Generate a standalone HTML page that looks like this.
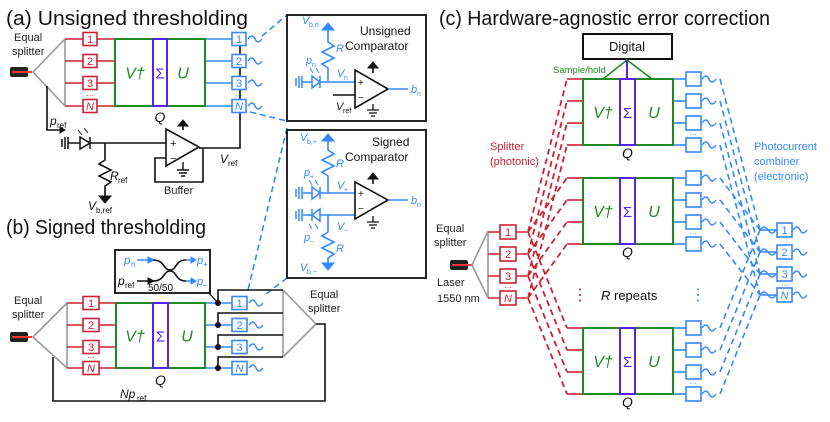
<!DOCTYPE html>
<html><head><meta charset="utf-8"><style>
html,body{margin:0;padding:0;background:#fff;}
svg{display:block;font-family:"Liberation Sans",sans-serif;}
.t{font-size:20px;fill:#111;}
.s{font-size:11px;fill:#222;}
</style></head><body>
<svg id="s" width="830" height="422" viewBox="0 0 830 422" xmlns="http://www.w3.org/2000/svg">
<text class="t" x="6" y="25" textLength="242" lengthAdjust="spacingAndGlyphs">(a)  Unsigned thresholding</text>
<text class="t" x="6" y="234" textLength="200" lengthAdjust="spacingAndGlyphs">(b)  Signed thresholding</text>
<text class="t" x="439" y="25" textLength="331" lengthAdjust="spacingAndGlyphs">(c)  Hardware-agnostic error correction</text>
<text class="s" x="14" y="41">Equal</text><text class="s" x="12" y="55">splitter</text>
<text class="s" x="14" y="304">Equal</text><text class="s" x="12" y="318">splitter</text>
<text class="s" x="310" y="298">Equal</text><text class="s" x="308" y="312">splitter</text>
<text class="s" x="436" y="232">Equal</text><text class="s" x="434" y="246">splitter</text>
<text class="s" x="437" y="286">Laser</text><text class="s" x="437" y="302">1550 nm</text>
<text class="s" x="164" y="194">Buffer</text>
<text x="490" y="150" font-size="11" fill="#cc2233">Splitter</text>
<text x="490" y="165" font-size="11" fill="#cc2233">(photonic)</text>
<text x="754" y="150" font-size="11" fill="#3388ff">Photocurrent</text>
<text x="754" y="165" font-size="11" fill="#3388ff">combiner</text>
<text x="754" y="180" font-size="11" fill="#3388ff">(electronic)</text>
<text x="553" y="73" font-size="9.5" fill="#228822">Sample/hold</text>
<text x="601" y="300" font-size="13" fill="#111"><tspan font-style="italic">R</tspan> repeats</text>
<text x="572" y="300" font-size="16" fill="#cc2233">⋮</text>
<text x="690" y="300" font-size="16" fill="#3388ff">⋮</text>
<text x="360" y="35" font-size="12" fill="#111">Unsigned</text>
<text x="345" y="50" font-size="12" fill="#111">Comparator</text>
<text x="372" y="146" font-size="12" fill="#111">Signed</text>
<text x="345" y="161" font-size="12" fill="#111">Comparator</text>
<g id="g"></g>
</svg>
<script>
const NS="http://www.w3.org/2000/svg",G=document.getElementById('g');
const RED="#cc2233",GR="#228822",PU="#5522ee",BL="#3388ff",BK="#111",GY="#999";
function E(t,a,txt){const e=document.createElementNS(NS,t);for(const k in a)e.setAttribute(k,a[k]);if(txt!=null)e.textContent=txt;G.appendChild(e);return e;}
function L(x1,y1,x2,y2,c,w,d){const a={x1,y1,x2,y2,stroke:c,"stroke-width":w||1.6};if(d)a["stroke-dasharray"]=d;return E('line',a);}
function P(d,c,w,f,dash){const a={d,stroke:c,"stroke-width":w||1.6,fill:f||"none"};if(dash)a["stroke-dasharray"]=dash;return E('path',a);}
function T(x,y,s,c,sz,it,anc){const a={x,y,fill:c,"font-size":sz||11};if(it)a["font-style"]="italic";if(anc)a["text-anchor"]=anc;return E('text',a,s);}
function box(x,y,w,h,c,lab){E('rect',{x,y:y-h/2,width:w,height:h,fill:"#fff",stroke:c,"stroke-width":1.6});if(lab)T(x+w/2,y+4,lab,c,11,lab=="N","middle");}
function wave(x,y,c){P(`M${x} ${y} c3 -4 5 -4 7 0 s4 4 7 0`,c,1.4);}
function laser(x,y){E('rect',{x,y:y-5,width:18,height:10,rx:2,fill:"#222"});L(x+2,y,x+22,y,"#f33",2);}
function arrowUp(x,y){P(`M${x-5} ${y+6}L${x} ${y}L${x+5} ${y+6}Z`,BK,1,BK);}
const labs=["1","2","3","N"];
function qblock(x,y,w,h,sx,sw,qy,vx,ux){
 E('rect',{x,y,width:w,height:h,fill:"#fff",stroke:GR,"stroke-width":2});
 E('rect',{x:sx,y,width:sw,height:h,fill:"none",stroke:PU,"stroke-width":2});
 T(vx,y+h/2+6,"V†",GR,16,true,"middle");T(sx+sw/2,y+h/2+6,"Σ",PU,15,false,"middle");T(ux,y+h/2+6,"U",GR,16,true,"middle");
 T(sx+sw/2,qy,"Q",BK,14,true,"middle");
}
// ---- panel a
const ya=[39,61,83,106];
laser(10,72);
P("M65 39L33 72L65 106",GY,1.6);L(65,39,65,106,GY,1.6);
L(240,40,240,106,BK,1.6);P("M240 106L240 148L199 148",BK,1.6);
ya.forEach((y,i)=>{L(65,y,115,y,RED);box(83,y,14,13,RED,labs[i]);L(205,y,232,y,BL);box(232,y,14,13,BL,labs[i]);wave(248,y,BL);});
T(90,98,"···",RED,8,false,"middle");T(239,98,"···",BL,8,false,"middle");
qblock(115,39,90,67,153,14,122,135,183);
P("M47 86L47 130L63 130",BK,1.6);P("M60 127L65 130L60 133Z",BK,1,BK);T(50,125,"p",BK,12,true);T(57,128,"ref",BK,8);
L(62,139,62,147,BK,1.5);L(65,137,65,149,BK,1.5);L(68,137,68,149,BK,1.5);
L(68,143,166,143,BK,1.6);P("M80 137L80 149L90 143Z",BK,1.5,"#fff");L(90,137,90,149,BK,1.5);
L(78,130,82,135,BK,1);L(84,128,88,133,BK,1);
P("M105 143L105 160L99 164L111 170L99 176L111 182L105 186L105 196",BK,1.6);P("M99 196L111 196L105 203Z",BK,1,BK);
T(110,180,"R",BK,12,true);T(118,183,"ref",BK,8);T(88,210,"V",BK,12,true);T(96,213,"b,ref",BK,8);
P("M183 130L183 122",BK,1.6);arrowUp(183,120);
P("M183 162L183 170M177 170L189 170M179 173L187 173M181 176L185 176",BK,1.4);
E('polygon',{points:"166,129 166,166 199,147",fill:"#fff",stroke:BK,"stroke-width":1.6});
T(170,147,"+",BK,11);T(170,162,"−",BK,11);
P("M166 158L155 158L155 182L203 182L203 148",BK,1.6);
T(220,163,"V",BK,12,true);T(228,166,"ref",BK,8);
L(262,36,287,15,BL,1.6,"6,4");L(250,112,287,121,BL,1.6,"6,4");
L(287,128,248,290,BL,1.6,"6,4");L(287,278,266,294,BL,1.6,"6,4");
// unsigned comparator
E('rect',{x:287,y:15,width:139,height:106,fill:"none",stroke:BK,"stroke-width":1.8});
P("M328 81L328 68L322 64L334 58L322 52L334 46L328 42L328 28",BL,1.6);P("M322 30L328 23L334 30Z",BL,1,BL);
L(296,78,296,86,BL,1.5);L(299,76,299,88,BL,1.5);L(302,76,302,88,BL,1.5);
L(302,82,355,82,BL,1.6);P("M312 76L312 88L320 82Z",BL,1.5,"#fff");L(320,76,320,88,BL,1.5);
L(310,68,313,73,BL,1);L(316,68,319,73,BL,1);
T(302,24,"V",BL,11,true);T(309,27,"b,n",BL,7);T(336,52,"R",BL,11,true);T(306,64,"p",BL,11,true);T(312,67,"n",BL,7);T(337,77,"V",BL,11,true);T(344,80,"n",BL,7);
L(333,95,355,95,BK,1.6);T(336,110,"V",BK,11,true);T(343,113,"ref",BK,7);
L(373,73,373,65,BK,1.6);arrowUp(373,62);P("M373 104L373 110M367 110L379 110M369 113L377 113M371 116L375 116",BK,1.3);
E('polygon',{points:"355,70 355,108 388,89",fill:"#fff",stroke:BK,"stroke-width":1.6});T(358,86,"+",BK,10);T(358,101,"−",BK,10);
L(388,89,408,89,BL,1.6);T(411,93,"b",BL,11,true);T(417,96,"n",BL,7);
// signed comparator
E('rect',{x:287,y:130,width:139,height:148,fill:"none",stroke:BK,"stroke-width":1.8});
P("M328 193L328 176L322 172L334 166L322 160L334 154L328 150L328 140",BL,1.6);P("M322 141L328 134L334 141Z",BL,1,BL);
P("M328 215L328 232L322 236L334 242L322 248L334 254L328 258L328 263",BL,1.6);P("M322 263L334 263L328 270Z",BL,1,BL);
[193,215].forEach((y,j)=>{L(296,y-4,296,y+4,BL,1.5);L(299,y-6,299,y+6,BL,1.5);L(302,y-6,302,y+6,BL,1.5);L(302,y,355,y,BL,1.6);
 if(j==0)P(`M312 ${y-6}L312 ${y+6}L320 ${y}Z`,BL,1.5,"#fff");else P(`M320 ${y-6}L320 ${y+6}L312 ${y}Z`,BL,1.5,"#fff");
 L(j?312:320,y-6,j?312:320,y+6,BL,1.5);});
L(309,180,312,185,BL,1);L(315,180,318,185,BL,1);L(309,224,312,229,BL,1);L(315,224,318,229,BL,1);
T(300,141,"V",BL,11,true);T(307,144,"b,+",BL,7);T(336,167,"R",BL,11,true);T(304,176,"p",BL,11,true);T(310,179,"+",BL,7);
T(337,189,"V",BL,11,true);T(344,192,"+",BL,7);T(337,230,"V",BL,11,true);T(344,233,"−",BL,7);
T(304,241,"p",BL,11,true);T(310,244,"−",BL,7);T(336,252,"R",BL,11,true);T(300,271,"V",BL,11,true);T(307,274,"b,−",BL,7);
L(373,184,373,176,BK,1.6);arrowUp(373,173);P("M373 216L373 222M367 222L379 222M369 225L377 225M371 228L375 228",BK,1.3);
E('polygon',{points:"355,182 355,219 388,200",fill:"#fff",stroke:BK,"stroke-width":1.6});T(358,197,"+",BK,10);T(358,212,"−",BK,10);
L(388,200,408,200,BL,1.6);T(411,204,"b",BL,11,true);T(417,207,"n",BL,7);
// ---- panel b
const yb=[303,325,347,368],yt=[290,313,335,357];
laser(10,337);
P("M67 303L33 337L67 368",GY,1.6);L(67,303,67,368,GY,1.6);
P("M283 290L316 324L283 357",GY,1.6);L(283,290,283,357,GY,1.6);
P("M316 324L325 324L325 401L53 401L53 357",BK,1.6);
yb.forEach((y,i)=>{L(67,y,116,y,RED);box(83,y,16,13,RED,labs[i]);L(205,y,232,y,BL);box(232,y,15,13,BL,labs[i]);wave(249,y,BL);
 P(`M218 ${y}L218 ${yt[i]}L283 ${yt[i]}`,BK,1.6);E('circle',{cx:218,cy:y,r:3,fill:BK});});
T(91,360,"···",RED,8,false,"middle");
qblock(116,303,89,65,153,15,385,135,187);
T(120,398,"Np",BK,12,true);T(137,401,"ref",BK,8);
E('rect',{x:115,y:250,width:95,height:43,fill:"#fff",stroke:BK,"stroke-width":1.8});
L(208,292,218,303,BK,1.3);
L(137,260,150,260,BL,1.5);P("M148 257L154 260L148 263Z",BL,1,BL);
L(137,281,150,281,BK,1.5);P("M148 278L154 281L148 284Z",BK,1,BK);
P("M153 260C165 260 163 270 170 270C177 270 175 260 186 260",BK,1.6);P("M153 281C165 281 163 271 170 271C177 271 175 281 186 281",BK,1.6);
L(186,260,193,260,BL,1.5);P("M191 257L196 260L191 263Z",BL,1,BL);L(186,281,193,281,BL,1.5);P("M191 278L196 281L191 284Z",BL,1,BL);
T(124,264,"p",BL,12,true);T(131,267,"n",BL,8);T(118,285,"p",BK,12,true);T(125,288,"ref",BK,8);
T(197,264,"p",BL,11,true);T(203,267,"+",BL,8);T(197,285,"p",BL,11,true);T(203,288,"−",BL,8);T(148,291,"50/50",BK,10);
// ---- panel c
E('rect',{x:583,y:34,width:89,height:25,fill:"#fff",stroke:BK,"stroke-width":2});T(627,51,"Digital",BK,13,false,"middle");
P("M603 79L627 60L652 79",GR,1.6);L(627,60,627,79,PU,2);
const bys=[79,178,328],off=[0,22,44,66],yl=[232,254,276,298],yr=[230,252,274,295];
laser(450,265);
P("M488 231L472 265L488 298",GY,1.6);L(488,231,488,298,GY,1.6);
yl.forEach((y,i)=>{L(488,y,527,y,RED);box(500,y,16,14,RED,labs[i]);});
T(508,290,"···",RED,8,false,"middle");
yr.forEach((y,i)=>{L(760,y,777,y,BL,1.4);box(777,y,15,14,BL,labs[i]);wave(793,y,BL);P(`M760 ${y} c3 -4 5 -4 8 0 s5 4 8 0`,BL,1.4);});
T(785,288,"···",BL,8,false,"middle");
bys.forEach(by=>{
 off.forEach((o,i)=>{const y=by+o;L(567,y,583,y,RED);L(528,yl[i],567,y,RED,1.8,"6,4");
  L(673,y,686,y,BL);box(686,y,15,14,BL);wave(702,y,BL);L(720,y,760,yr[i],BL,1.6,"6,4");});
 T(693,by+58,"···",BL,8,false,"middle");
 qblock(583,by,90,66,620,15,by+79,603,654);
});
</script>
</body></html>
